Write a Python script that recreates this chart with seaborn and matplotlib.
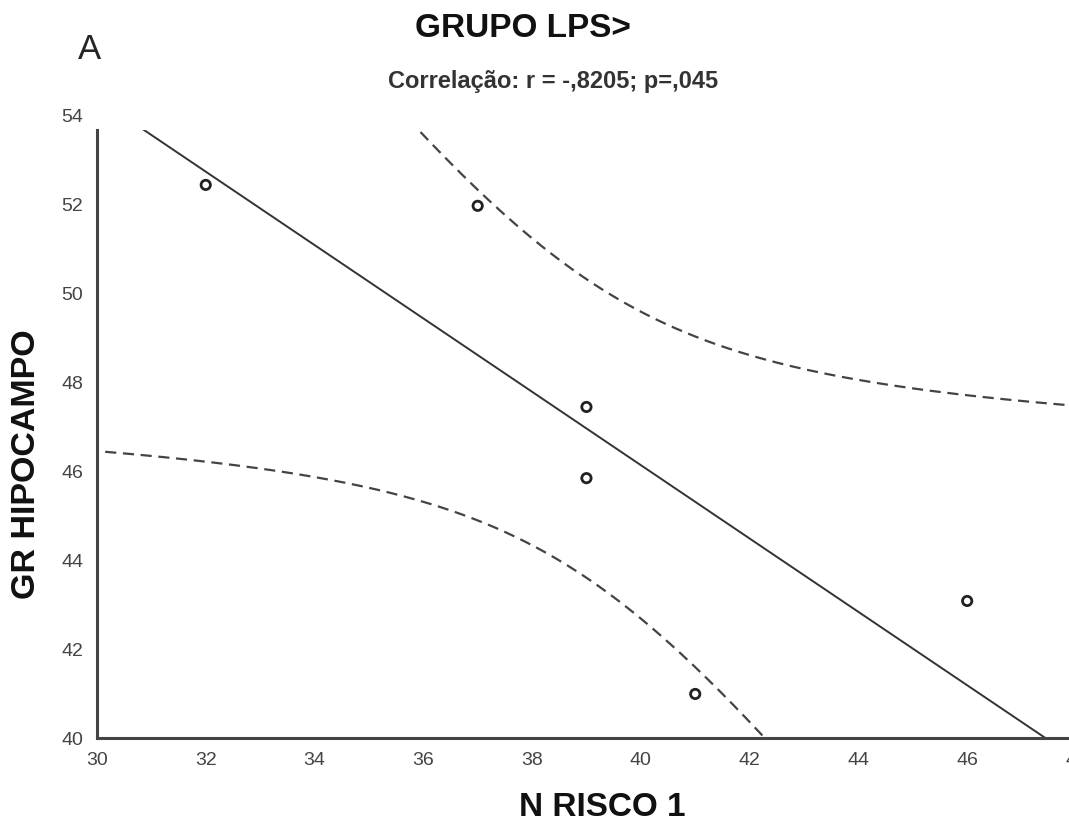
import numpy as np
import matplotlib
matplotlib.use("Agg")
import matplotlib.pyplot as plt
import seaborn as sns
import pandas as pd
from matplotlib.patches import Rectangle

# data
n_risco = [32, 37, 39, 39, 41, 46]
gr_hipocampo = [52.43, 51.96, 47.44, 45.84, 40.99, 43.08]
x_ticks = [30, 32, 34, 36, 38, 40, 42, 44, 46, 48]
y_ticks = [40, 42, 44, 46, 48, 50, 52, 54]

sns.set_style("white")
plt.rcParams["font.family"] = ["Liberation Sans", "DejaVu Sans"]

dat = pd.DataFrame({"x": n_risco, "y": gr_hipocampo})

# linear fit + 95% confidence band of the mean
x = dat.x.values
y = dat.y.values
n = len(x)
slope, icpt = np.polyfit(x, y, 1)
resid = y - (icpt + slope * x)
s = np.sqrt(np.sum(resid**2) / (n - 2))
t = 2.776  # t(0.975, df=4)
xs = np.linspace(29.5, 48.5, 400)
fit = icpt + slope * xs
se = s * np.sqrt(1 / n + (xs - x.mean())**2 / np.sum((x - x.mean())**2))
band = pd.DataFrame({"x": xs, "fit": fit, "lo": fit - t * se, "hi": fit + t * se})

fig = plt.figure(figsize=(10.69, 8.27), dpi=100)
ax = fig.add_axes([0.0907, 0.1076, 0.9158, 0.7533])

ytop = 53.66
clip = Rectangle((30, 40), 18, ytop - 40, transform=ax.transData)

sns.lineplot(data=band, x="x", y="fit", color="#333333", lw=1.4, ax=ax)
sns.lineplot(data=band, x="x", y="lo", color="#444444", lw=1.6, ls=(0, (5, 3)), ax=ax)
sns.lineplot(data=band, x="x", y="hi", color="#444444", lw=1.6, ls=(0, (5, 3)), ax=ax)
for ln in ax.lines:
    ln.set_clip_path(clip)
sns.scatterplot(data=dat, x="x", y="y", s=45, facecolors="none", edgecolor="#222222",
                linewidth=2.0, ax=ax, zorder=5)

ax.set_xlim(30, 48)
ax.set_ylim(40, 54)
ax.set_xticks(x_ticks)
ax.set_yticks(y_ticks)
ax.tick_params(axis="both", direction="in", length=5, width=1.2, colors="#333333",
               labelsize=14, labelcolor="#444444", pad=10)
for sp in ["top", "right"]:
    ax.spines[sp].set_visible(False)
for sp in ["left", "bottom"]:
    ax.spines[sp].set_color("#444444")
    ax.spines[sp].set_linewidth(2.2)
ax.spines["left"].set_bounds(40, ytop)

ax.set_xlabel("N RISCO 1", fontsize=24, color="#111111", fontweight="bold")
ax.set_ylabel("GR HIPOCAMPO", fontsize=24.5, color="#111111", fontweight="bold")
ax.xaxis.set_label_coords(0.516, -0.086)
ax.yaxis.set_label_coords(-0.056, 0.440)

fig.text(0.084, 0.94, "A", fontsize=25, ha="center", va="center")
fig.text(0.489, 0.965, "GRUPO LPS>", fontsize=24, ha="center", va="center",
         fontweight="bold", color="#111111")
fig.text(0.517, 0.902, "Correlação: r = -,8205; p=,045", fontsize=17,
         ha="center", va="center", color="#333333", fontweight="bold")

fig.savefig("out.png", dpi=100)
